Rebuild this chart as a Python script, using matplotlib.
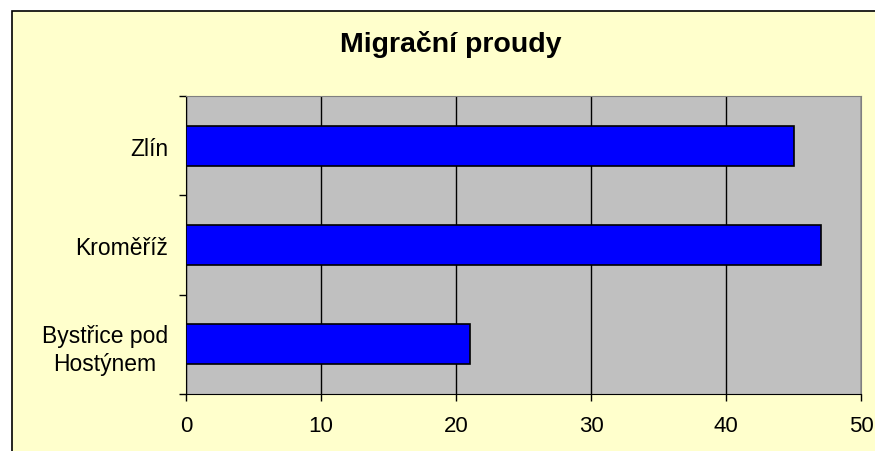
import matplotlib.pyplot as plt
from matplotlib.patches import Rectangle

cities = ["Bystřice pod\nHostýnem", "Kroměříž", "Zlín"]
values = [21, 47, 45]
xticks = [0, 10, 20, 30, 40, 50]

plt.rcParams['font.family'] = ['Liberation Sans', 'DejaVu Sans']

fig = plt.figure(figsize=(8.75, 4.52), dpi=100, facecolor="white")
# yellow chart area with black frame (cut off at right and bottom)
fig.patches.append(Rectangle((12 / 875, -0.1), 1.2, 1.1 - 12 / 452,
                             transform=fig.transFigure, facecolor="#FFFFCC",
                             edgecolor="black", linewidth=1.2, zorder=-10))

ax = fig.add_axes([186 / 875, 1 - 395 / 452, 675 / 875, 298 / 452])
ax.set_facecolor("#C0C0C0")
ax.barh(range(len(cities)), values, height=0.4, color="#0000FF",
        edgecolor="black", linewidth=1.2, zorder=3)

ax.set_xlim(0, 50)
ax.set_ylim(-0.5, 2.5)
ax.set_xticks(xticks)
ax.set_yticks([-0.5, 0.5, 1.5, 2.5], minor=False)
ax.set_yticklabels([])
ax.set_yticks(range(len(cities)), minor=True)
ax.set_yticklabels(cities, minor=True, multialignment="center", linespacing=1.3)
ax.tick_params(axis="y", which="minor", length=0, pad=13, labelsize=16.5)
ax.tick_params(axis="y", which="major", length=5, width=1, direction="out")
ax.tick_params(axis="x", length=5, width=1, direction="out", pad=10, labelsize=16)
ax.grid(axis="x", color="black", linewidth=1, zorder=1)
ax.set_axisbelow(True)

for side in ["top", "right"]:
    ax.spines[side].set_color("#808080")
for side in ["left", "bottom"]:
    ax.spines[side].set_color("black")

fig.text(0.515, 1 - 52 / 452, "Migrační proudy", ha="center", va="baseline",
         fontsize=20.5, fontweight="bold")

fig.savefig("out.png", dpi=100, facecolor="white")
